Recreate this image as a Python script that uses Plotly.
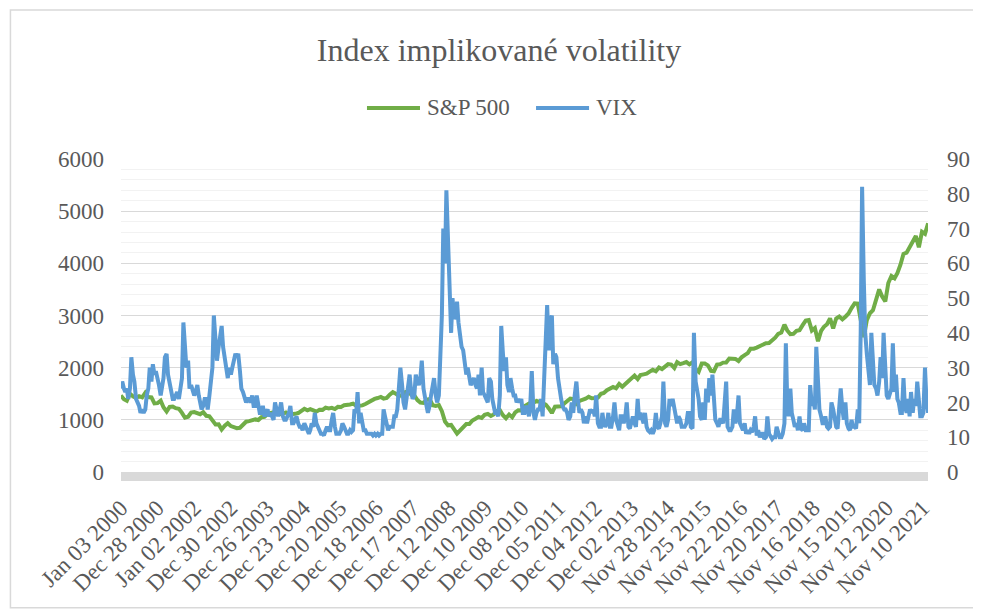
import pandas as pd
import plotly.graph_objects as go

# S&P 500, hodnota k začátku měsíce (2000-01 .. 2022-01)
sp500 = [
    1469, 1394, 1366, 1499, 1452, 1421, 1455, 1431, 1518, 1437, 1429, 1315,
    1320, 1366, 1240, 1160, 1249, 1256, 1224, 1211, 1134, 1041, 1060, 1139,
    1148, 1130, 1107, 1147, 1077, 1067, 990, 912, 916, 815, 886, 936,
    880, 856, 841, 848, 917, 964, 975, 990, 1008, 996, 1051, 1058,
    1112, 1131, 1145, 1126, 1107, 1121, 1141, 1102, 1104, 1115, 1130, 1174,
    1212, 1181, 1204, 1181, 1157, 1192, 1191, 1234, 1220, 1229, 1207, 1249,
    1248, 1280, 1281, 1295, 1311, 1270, 1270, 1277, 1304, 1336, 1378, 1401,
    1418, 1438, 1407, 1421, 1482, 1531, 1503, 1455, 1474, 1527, 1549, 1481,
    1468, 1379, 1331, 1323, 1386, 1400, 1280, 1267, 1283, 1166, 969, 896,
    903, 826, 735, 798, 873, 919, 919, 987, 1021, 1057, 1036, 1096,
    1115, 1074, 1104, 1169, 1187, 1089, 1031, 1102, 1049, 1141, 1183, 1181,
    1258, 1286, 1327, 1326, 1364, 1345, 1321, 1292, 1219, 1131, 1253, 1247,
    1258, 1312, 1366, 1408, 1398, 1310, 1362, 1379, 1407, 1441, 1412, 1416,
    1426, 1498, 1515, 1569, 1598, 1631, 1606, 1686, 1633, 1682, 1757, 1806,
    1848, 1783, 1859, 1872, 1884, 1924, 1960, 1931, 2003, 1972, 2018, 2068,
    2059, 1995, 2105, 2068, 2086, 2107, 2063, 2104, 1972, 1920, 2079, 2080,
    2044, 1940, 1932, 2060, 2065, 2097, 2099, 2174, 2171, 2168, 2126, 2199,
    2239, 2279, 2364, 2363, 2384, 2412, 2423, 2470, 2472, 2519, 2575, 2648,
    2674, 2824, 2714, 2641, 2648, 2705, 2718, 2816, 2902, 2914, 2712, 2760,
    2507, 2704, 2784, 2834, 2946, 2752, 2942, 2980, 2926, 2977, 3038, 3141,
    3231, 3226, 2954, 2585, 2912, 3044, 3100, 3271, 3500, 3363, 3270, 3622,
    3756, 3714, 3811, 3973, 4181, 4204, 4298, 4395, 4523, 4308, 4605, 4567,
    4766,
]

# VIX, dvakrát za měsíc (1. a 15. den)
vix = [
    24, 26, 24, 23, 24, 21, 24, 33, 28, 26, 21, 20, 19, 17, 18, 17, 18, 22, 24, 30, 26, 31, 28, 29,
    27, 25, 22, 25, 27, 33, 34, 28, 26, 23, 21, 21, 22, 23, 21, 24, 27, 43, 33, 30, 32, 24, 25, 23,
    22, 23, 25, 22, 20, 18, 19, 21, 21, 18, 22, 26, 30, 45, 36, 32, 36, 40, 42, 36, 32, 29, 27, 30,
    28, 30, 33, 34, 33, 34, 29, 24, 23, 21, 20, 21, 21, 20, 22, 19, 19, 22, 19, 17, 17, 19, 16, 17,
    18, 16, 17, 16, 15, 20, 17, 16, 18, 20, 16, 15, 15, 16, 17, 19, 14, 14, 15, 16, 14, 13, 13, 12,
    14, 13, 12, 11, 12, 14, 13, 17, 14, 13, 12, 11, 11, 10.5, 12, 13, 12, 12, 15, 17, 13, 11, 11, 11,
    12, 14, 13, 12, 11, 11, 12, 11.5, 12, 18, 17, 23, 14, 17, 14, 12, 12, 11, 11, 11, 11, 10.5, 11, 10.5,
    11, 10.5, 11, 11, 18, 16, 13, 12, 13, 13, 13, 16, 16, 18, 25, 30, 25, 20, 18, 22, 24, 28, 23, 21,
    22, 28, 26, 25, 27, 32, 24, 21, 19, 17, 19, 22, 25, 27, 22, 20, 22, 33, 45, 70, 60, 81, 65, 47,
    40, 50, 44, 45, 49, 43, 40, 36, 35, 31, 28, 30, 27, 25, 26, 27, 25, 24, 28, 22, 30, 23, 22, 21,
    20, 27, 26, 21, 19, 17, 17, 16, 22, 42, 34, 29, 33, 25, 23, 27, 24, 22, 22, 20, 21, 20, 21, 17,
    17, 19, 18, 16, 20, 29, 17, 15, 17, 18, 18, 21, 16, 25, 35, 48, 35, 43, 45, 31, 34, 33, 27, 23,
    21, 19, 18, 18, 17, 15, 16, 20, 17, 22, 26, 21, 17, 18, 17, 14, 16, 14, 16, 18, 17, 18, 16, 22,
    14, 13, 13, 17, 14, 13, 14, 17, 13, 13, 16, 20, 15, 13, 12, 16, 16, 14, 16, 20, 13, 12.5, 14, 16,
    14, 13, 21, 15, 17, 15, 14, 17, 13, 12, 11.5, 12, 11, 12, 17, 13, 12.5, 14, 16, 26, 14, 13, 15, 21,
    19, 21, 18, 15, 14, 16, 15, 13, 13, 13, 14, 17, 17, 13, 12.5, 40, 26, 24, 21, 16, 15, 20, 15, 24,
    20, 27, 22, 28, 18, 15, 14, 13, 15, 15, 14, 20, 26, 13, 12, 12, 13, 18, 14, 16, 22, 14, 13, 12,
    14, 11, 12, 11, 12, 11.5, 13, 16, 10.5, 12, 10, 11, 11, 9.5, 10, 16, 11, 10, 9.5, 10, 10, 13, 11, 10,
    10, 11, 14, 37, 20, 16, 24, 17, 15, 13, 14, 12, 16, 12.5, 12, 14, 12, 12, 12, 25, 19, 21, 18, 36,
    25, 18, 16, 14, 14, 16, 13, 12.5, 13, 20, 18, 15, 13, 12.5, 18, 24, 18, 15, 20, 14, 12.5, 12, 15, 13,
    13, 12.5, 18, 14, 40, 82, 55, 40, 34, 29, 25, 40, 30, 25, 24, 22, 26, 33, 27, 40, 30, 22, 21, 23,
    24, 37, 23, 28, 21, 20, 17, 17, 27, 19, 17, 21, 16, 23, 17, 21, 19, 26, 21, 16, 16, 17, 30, 21,
    17,
]

tick_dates = [
    "2000-01-03", "2000-12-28", "2002-01-02", "2002-12-30", "2003-12-26", "2004-12-23",
    "2005-12-20", "2006-12-18", "2007-12-17", "2008-12-12", "2009-12-10", "2010-12-08",
    "2011-12-05", "2012-12-04", "2013-12-02", "2014-11-28", "2015-11-25", "2016-11-22",
    "2017-11-20", "2018-11-16", "2019-11-15", "2020-11-12", "2021-11-10",
]
tick_labels = [pd.Timestamp(d).strftime("%b %d %Y") for d in tick_dates]

sp_dates = pd.date_range("2000-01-01", periods=len(sp500), freq="MS")
vix_dates = pd.date_range("2000-01-01", periods=len(vix), freq="SMS")

GREEN = "#70AD47"
BLUE = "#5B9BD5"
TEXT = "#595959"
FONT = "Liberation Serif, Times New Roman, serif"

fig = go.Figure()
fig.add_trace(
    go.Scatter(x=sp_dates, y=sp500, name="S&P 500", mode="lines",
               line={"color": GREEN, "width": 4})
)
fig.add_trace(
    go.Scatter(x=vix_dates, y=vix, name="VIX", mode="lines", yaxis="y2",
               line={"color": BLUE, "width": 4})
)

tickfont = {"family": FONT, "size": 23, "color": TEXT}

# stránka má okraj 8 px, proto jsou okraje posunuté
fig.update_layout(
    width=981,
    height=611,
    margin={"l": 113, "r": 61, "t": 151, "b": 147},
    paper_bgcolor="white",
    plot_bgcolor="white",
    font={"family": FONT, "color": TEXT},
    title={
        "text": "Index implikované volatility",
        "font": {"family": FONT, "size": 32, "color": TEXT},
        "x": 0.5005, "xanchor": "center",
        "y": 0.931, "yanchor": "middle",
    },
    showlegend=False,
    xaxis={
        "type": "date",
        "range": ["2000-01-03", "2021-12-31"],
        "tickvals": tick_dates,
        "ticktext": tick_labels,
        "tickangle": -45,
        "tickfont": tickfont,
        "showgrid": False,
        "zeroline": False,
        "ticks": "",
        "ticklabelstandoff": 17,
        "automargin": False,
    },
    yaxis={
        "range": [0, 6000],
        "dtick": 1000,
        "tickfont": tickfont,
        "showgrid": True,
        "gridcolor": "#D9D9D9",
        "gridwidth": 1.3,
        "minor": {"dtick": 200, "showgrid": True, "gridcolor": "#F2F2F2", "gridwidth": 1.3},
        "zeroline": False,
        "ticks": "",
        "ticklabelstandoff": 16,
        "automargin": False,
    },
    yaxis2={
        "range": [0, 90],
        "dtick": 10,
        "overlaying": "y",
        "side": "right",
        "tickfont": tickfont,
        "showgrid": False,
        "zeroline": False,
        "ticks": "",
        "ticklabelstandoff": 18,
        "automargin": False,
    },
)

# tlustá šedá osa pod nulou
fig.add_shape(type="rect", xref="x domain", yref="y domain",
              x0=0, x1=1, y0=-9 / 313, y1=0,
              fillcolor="#D9D9D9", line={"width": 0}, layer="below")
# rámeček grafu
fig.add_shape(type="rect", xref="paper", yref="paper",
              x0=-0.137, x1=1.0595, y0=-0.434, y1=1.476,
              line={"color": "#D9D9D9", "width": 1.5}, fillcolor="rgba(0,0,0,0)")

# legenda ve stylu Excelu (delší vzorek čáry)
legend_items = [("S&P 500", GREEN, 0.3048, 0.3705), ("VIX", BLUE, 0.5143, 0.58)]
for name, color, lx0, lx1 in legend_items:
    fig.add_shape(type="line", xref="paper", yref="paper",
                  x0=lx0, x1=lx1, y0=1.163, y1=1.163,
                  line={"color": color, "width": 4})
    fig.add_annotation(text=name, xref="paper", yref="paper",
                       x=lx1 + 0.006, y=1.163, xanchor="left", yanchor="middle",
                       showarrow=False,
                       font={"family": FONT, "size": 23, "color": TEXT})

fig.write_html("out.html")
